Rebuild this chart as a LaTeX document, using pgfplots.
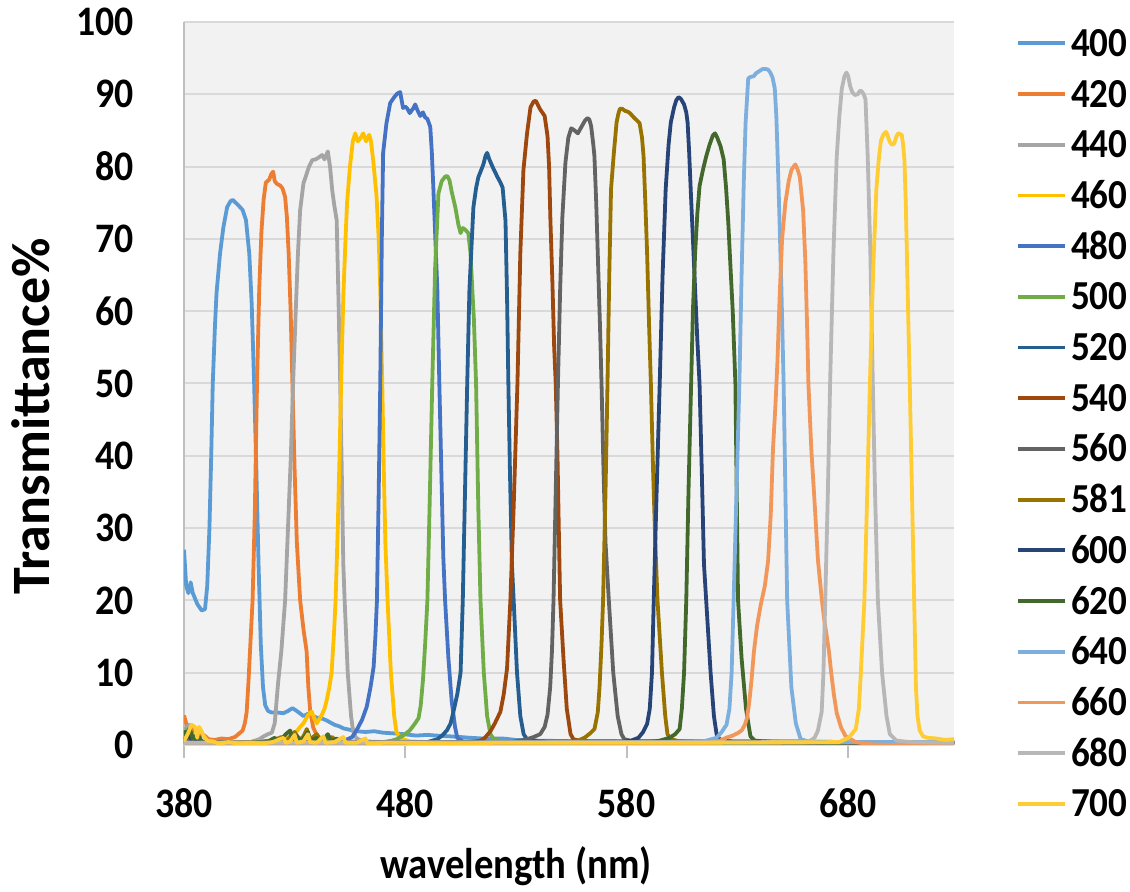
\documentclass[border=0pt]{standalone}
\usepackage{fontspec}
\setmainfont{Carlito}[FakeStretch=0.9]
\newfontfamily\ylabfont{Carlito}
\usepackage{pgfplots}
\pgfplotsset{compat=1.18}
\definecolor{c400}{HTML}{5B9BD5}
\definecolor{c420}{HTML}{ED7D31}
\definecolor{c440}{HTML}{A5A5A5}
\definecolor{c460}{HTML}{FFC000}
\definecolor{c480}{HTML}{4472C4}
\definecolor{c500}{HTML}{70AD47}
\definecolor{c520}{HTML}{255E91}
\definecolor{c540}{HTML}{9E480E}
\definecolor{c560}{HTML}{636363}
\definecolor{c581}{HTML}{997300}
\definecolor{c600}{HTML}{264478}
\definecolor{c620}{HTML}{43682B}
\definecolor{c640}{HTML}{7CAFDD}
\definecolor{c660}{HTML}{F1975A}
\definecolor{c680}{HTML}{B7B7B7}
\definecolor{c700}{HTML}{FFCD33}
\definecolor{bgc}{HTML}{F2F2F2}
\definecolor{gridc}{HTML}{D9D9D9}
\definecolor{tickc}{HTML}{BFBFBF}
\begin{document}
\begin{tikzpicture}
\begin{axis}[
  at={(0,0)}, anchor=south west,
  scale only axis, width=385pt, height=361.5pt,
  xmin=380, xmax=728, ymin=0, ymax=100,
  xtick={380,480,580,680}, ytick={0,10,...,100},
  axis background/.style={fill=bgc},
  ymajorgrids, major grid style={draw=gridc, line width=1pt},
  axis lines*=left, axis line style={draw=tickc, line width=1pt, -},
  x axis line style={draw=gridc},
  tick align=outside, major tick length=6.5pt,
  x tick style={draw=tickc, line width=1pt},
  y tick style={draw=none},
  /pgf/number format/assume math mode=true,
  tick label style={font=\fontsize{21}{21}\selectfont\bfseries},
  yticklabel style={inner sep=0pt, anchor=east, xshift=-18.5pt},
  xticklabel style={inner sep=0pt, anchor=north, yshift=-15pt},
  xlabel={wavelength (nm)},
  xlabel style={at={(axis description cs:0.431,-0.184)}, anchor=base, inner sep=0pt, font=\fontsize{21.5}{21.5}\selectfont\bfseries},
  ylabel={Transmittance\%},
  ylabel style={at={(axis description cs:-0.1753,0.455)}, anchor=base, inner sep=0pt, font=\fontsize{27}{27}\selectfont\ylabfont\bfseries},
  legend style={at={(axis description cs:1.0805,0.989)}, anchor=north west, draw=none, fill=none, inner sep=0pt, row sep=12.35pt, column sep=2pt,
    font=\fontsize{20.6}{20.6}\selectfont\bfseries, nodes={inner sep=0pt, text height=13pt, text depth=0pt}},
  legend cell align=left,
  legend image code/.code={\draw[#1] (0pt,0pt) -- (23.5pt,0pt);},
  every axis plot/.append style={line width=1.9pt, line join=round, no marks},
]
% 400
\addplot[c400] coordinates {(380,27)(381,22)(382,21)(383,22.5)(384,21)(386,19.5)(388,18.6)(389.5,18.8)(390.5,22)(391.5,30)(392.3,40)(393,50)(394,58)(394.7,62.5)(396.3,68)(397.8,71.6)(399.5,74.4)(401,75.2)(402,75.4)(403,75.1)(404.4,74.7)(406.5,74)(408,72.6)(409.5,68)(410.6,61)(411.7,50)(412.7,38)(413.7,25)(414.7,14)(415.7,8)(416.7,5.5)(418,4.7)(419.5,4.5)(422,4.5)(425,4.4)(427,4.7)(429,5.1)(431,4.7)(434,4.0)(436,4.3)(438,4.0)(440,3.8)(443,3.6)(445,3.3)(448,2.8)(450,2.6)(452,2.3)(455,2.1)(458,1.9)(462,1.8)(466,1.9)(470,1.7)(475,1.6)(479,1.5)(485,1.3)(490,1.4)(494,1.3)(500,1.2)(505,1.1)(509,1.0)(515,0.9)(524,0.9)(530,0.7)(540,0.6)(560,0.5)(600,0.5)(640,0.4)(680,0.4)(728,0.4)};
% 420
\addplot[c420] coordinates {(380,4.1)(381,3)(382,2.2)(383,2.8)(384,1.8)(385.5,2.2)(387,1.2)(389,1.4)(391,0.8)(394,0.7)(397,0.9)(400,0.8)(403,1.1)(405,1.6)(406.5,2.0)(407.5,3)(408.3,4.5)(409.1,8.5)(410,14)(411,20)(412,32)(413,50)(414,63)(415,71)(416,75.5)(417,77.8)(418.5,78.2)(419.5,79)(420.3,79.3)(421,78)(422,77.6)(423.4,77.4)(424.5,77)(425.7,75.8)(426.5,73)(427.3,68)(428.2,60)(429,50)(430,38)(431,28)(432.5,20)(434,16)(435.4,13)(436.2,8)(437,4.8)(438.4,2.4)(440,1.4)(442,0.8)(446,0.6)(450,0.5)(470,0.4)(728,0.3)};
% 440
\addplot[c440] coordinates {(380,2.5)(381,1.5)(382,2.8)(383,1.2)(385,0.5)(390,0.3)(400,0.3)(410,0.4)(414,0.8)(416,1.2)(418,1.5)(419.7,1.7)(421,3)(422.5,8.5)(424,13)(425.7,20)(427,30)(428.3,40)(429.3,50)(430.5,60)(431.5,68)(432.5,74)(434,77.7)(435,78.6)(436.5,80)(438,80.9)(439.5,81)(440.6,81.2)(442.4,81.6)(443.5,81)(445,82.1)(446,80)(447,76.7)(448,74.5)(449,72.6)(449.8,62)(450.6,50)(451.3,38)(452,25)(452.6,20)(454,10)(455.5,4)(456.5,1.8)(458,0.9)(461,0.5)(470,0.4)(728,0.3)};
% 460
\addplot[c460] coordinates {(380,1.5)(382,0.6)(384,1.0)(386,0.5)(390,0.4)(400,0.3)(410,0.4)(420,0.6)(425,0.8)(428,1.2)(430.2,1.6)(432.5,2.5)(434,3)(436,4.1)(437.7,4.6)(439,3.6)(440,3)(441,3.5)(442.2,4.1)(443.5,5)(444.5,6.2)(445.7,8)(446.7,10)(447.8,15.5)(448.5,20)(449.5,30)(450.3,40)(451,50)(452,62)(453,70)(453.7,75)(455,80)(456.3,83.5)(457.4,84.6)(458.5,83.5)(459.5,83.8)(461,84.6)(462.3,83.5)(463.7,84.4)(464.5,83.5)(465.5,80.9)(467,76)(468,70)(468.7,63)(469.6,50)(470.3,38)(471,28)(472,20)(473.5,10)(475,4)(476,1.8)(478,0.9)(482,0.5)(490,0.4)(728,0.3)};
% 480
\addplot[c480] coordinates {(380,0.5)(400,0.3)(430,0.3)(450,0.5)(454,0.8)(456,1.1)(458.1,2.1)(460.5,3.5)(462.6,5.3)(464.3,8)(465.7,10.8)(466.5,15)(467.2,20)(468,35)(468.7,50)(469.4,70)(470,81.9)(471.5,86)(473.2,88.8)(475,89.6)(476.4,90.1)(477.7,90.3)(479,88.1)(480,88.3)(481,88)(482,87.4)(483.5,88)(484.5,88.6)(485.5,87.8)(486.8,87)(488,87.5)(489,86.8)(490,86.6)(491.3,85.5)(492,82)(492.7,77)(493.6,70)(494.5,63)(495.4,50)(496.3,38)(497.2,26)(498,20)(499.5,12)(501,6)(502.5,2.5)(503.5,1)(506,0.5)(515,0.4)(728,0.3)};
% 500
\addplot[c500] coordinates {(380,1.5)(382,2.2)(384,1)(386,0.4)(400,0.3)(440,0.3)(470,0.4)(474,0.6)(476,0.8)(479,1.3)(482,2)(484,2.8)(486,3.7)(487,5.5)(488,9)(489,14)(490,20)(491,33)(492.2,50)(493.5,66)(495,76.3)(496.5,78)(498,78.6)(499,78.7)(500,78.1)(501,76.5)(502.6,74.4)(504,72)(505,70.8)(506,71.5)(507,71.3)(508.5,70.8)(509.5,68)(510.3,63)(511,59)(512,50)(513,33)(514,20)(515.5,10)(517,4)(518.5,1.5)(520,0.8)(524,0.5)(530,0.4)(728,0.3)};
% 520
\addplot[c520] coordinates {(380,0.5)(400,0.3)(490,0.4)(494.5,0.8)(497,1.4)(499,2.1)(500.5,3)(501.7,4.5)(503.5,7)(505,10)(506,20)(507,35)(508,50)(509,63)(510.8,74.4)(512,77)(513,78.5)(515.3,80.3)(516.3,81.5)(517,81.9)(518,81)(519.4,80)(521.6,78.6)(523,77.8)(524,77.1)(525.3,72.5)(526,62)(526.6,50)(527.3,38)(528.2,25)(529,20)(530.5,10)(532,4)(533.5,1.5)(535,0.8)(540,0.5)(728,0.3)};
% 540
\addplot[c540] coordinates {(380,0.8)(383,1.5)(386,0.4)(400,0.3)(510,0.4)(514,0.6)(516,1)(518.5,1.9)(520.5,3)(523,4.6)(524.5,7)(526,10.6)(527.5,20)(529,33)(530.7,50)(532,68)(533.4,79.5)(535,84.5)(536.6,88.2)(538,89)(539,89.1)(540,88.5)(541,87.9)(543,87)(544.3,84.2)(545,80)(545.6,72.6)(546.5,64)(547.3,55)(548,50)(548.8,40)(549.5,28)(550,20)(551.5,12)(553,5)(554.7,1.5)(556,0.8)(560,0.5)(728,0.3)};
% 560
\addplot[c560] coordinates {(380,1.2)(382,0.5)(400,0.3)(527,0.4)(532,0.6)(535,0.8)(538,1.1)(541,1.5)(543,2.5)(544.3,4.2)(545.5,8)(546.3,13)(547,20)(548,35)(549,50)(550,63)(551,73)(552.4,80.6)(553.7,84)(555,85.3)(556.5,85)(558,84.6)(560,85.7)(561.3,86.4)(562.4,86.7)(563.2,86.5)(564,85.6)(565,83)(565.5,81.4)(566.3,75)(567,68)(568,58)(568.7,50)(569.6,38)(570.5,28)(572,20)(574,10)(576,4)(577.7,1.5)(579,0.8)(583,0.5)(728,0.3)};
% 581
\addplot[c581] coordinates {(380,1)(383,1.8)(385,0.5)(390,0.3)(410,0.3)(420,0.6)(424,1.1)(426,0.5)(430,1.8)(432,0.6)(434,1.2)(435.5,2.2)(437,0.8)(440,1.5)(442,0.5)(447,1.1)(449,0.4)(455,0.3)(490,0.3)(520,0.4)(540,0.3)(555,0.4)(558,0.6)(561,1)(563.5,1.6)(565.5,2.2)(567,4.5)(567.8,8)(568.7,14)(569.4,20)(570.5,35)(571.4,50)(572.2,65)(573,76.9)(574.3,82)(575.5,86.1)(576.3,87.3)(577,88)(578,88)(579.4,87.7)(580.5,87.6)(581.5,87.4)(582.7,87)(583.6,86.7)(585,86.3)(585.9,86)(587,84)(587.7,81.4)(588.5,75)(589.3,68)(590.2,58)(591,50)(592,38)(593,28)(594,20)(596,10)(597.5,4)(598.5,1.5)(600,0.8)(604,0.5)(728,0.3)};
% 600
\addplot[c600] coordinates {(380,0.6)(382,1.4)(384,0.5)(390,0.3)(578,0.4)(582,0.6)(585.4,1)(587.5,1.8)(589.3,2.9)(590.5,5)(591.5,10)(592.3,20)(593.6,35)(595,50)(596.3,65)(597.7,76.9)(599,83)(600,86.1)(601.5,88.2)(602.5,89.2)(603.5,89.6)(604.5,89.4)(606,88.6)(607,87.5)(607.6,86.1)(608.3,82)(609,76.9)(610,70)(611,63)(612,56)(613,50)(614,38)(615,25)(616,20)(618,10)(619.5,4)(620.7,1.5)(622,0.8)(626,0.5)(728,0.3)};
% 620
\addplot[c620] coordinates {(380,2)(381,1.2)(382.5,2.3)(384,0.8)(386,1.5)(388,0.5)(392,0.3)(400,0.2)(410,0.3)(418,0.5)(421,1.0)(423,0.4)(426,1.5)(428,2.0)(429,0.6)(431,1.3)(433,0.5)(436,1.8)(437,0.6)(440,1.0)(442,0.4)(445,1.5)(446.5,0.5)(449,0.9)(451,0.3)(455,0.3)(470,0.2)(500,0.3)(540,0.3)(580,0.3)(590,0.4)(595,0.6)(599.5,1)(602,1.5)(604,2.2)(605,5)(606,10)(607,20)(608,35)(609.2,50)(610,60)(611,68)(612,73.5)(613,77.3)(614.5,79.5)(616,81.4)(617.5,83)(619,84.3)(620,84.6)(621,84)(622.5,82.8)(623.9,81)(625,77)(626,72.2)(627,66)(628,60)(629.2,50)(629.8,35)(630.4,20)(632,12)(634,5)(636,1.2)(638,0.6)(642,0.5)(728,0.3)};
% 640
\addplot[c640] coordinates {(380,0.3)(612,0.4)(616,0.6)(620.7,1)(623,1.8)(625.2,2.8)(626.5,5)(627.5,10)(628.4,20)(629.7,35)(631,50)(632,65)(633,78)(633.8,86)(635,92.2)(636,92.4)(637.5,92.5)(638.5,92.9)(640,93.2)(641.5,93.5)(643,93.5)(644,93.4)(645,93)(646,92.3)(647,90.8)(647.7,87)(648.3,81.4)(649.2,72)(650,63)(651,50)(651.8,35)(652.6,20)(654.5,8)(656.5,3)(658.7,0.8)(662,0.5)(670,0.4)(728,0.4)};
% 660
\addplot[c660] coordinates {(380,0.3)(615,0.3)(620,0.4)(622.3,0.6)(625,1)(628,1.3)(630,1.6)(632,2)(633.5,2.8)(634.5,3.8)(635.5,6)(636.5,9)(637.6,13)(639,16.5)(640.6,19.3)(642.5,22)(644,25.5)(645.2,32)(646.2,41)(647.3,47)(648.2,53)(649.2,62)(650.3,70)(651.8,75)(653.3,78)(654.5,79.5)(655.5,80)(656.3,80.3)(657.3,79.6)(658.3,78.6)(659.8,74)(660.8,67)(661.6,58)(662.2,50)(663.5,41)(665.3,32)(666.5,25.6)(668.3,20)(669.5,17)(670.5,15)(671.5,12.9)(672.5,10)(673.7,7)(675,4.4)(677,2.4)(679,1.2)(683.6,0.4)(690,0.1)(700,0)(728,0)};
% 680
\addplot[c680] coordinates {(380,0.3)(660,0.4)(663,0.6)(665,1)(666.5,2)(668.2,4.6)(669,10)(669.8,20)(671,35)(672,50)(673.5,68)(675,81.4)(676.2,87)(677.3,90.8)(678.5,92.5)(679.4,93)(680.2,92.5)(681,91.2)(682,90.3)(683.2,89.9)(684.5,90)(685.5,90.5)(686.3,90.4)(687.2,90)(688,89.3)(689,81.4)(690.2,68)(691.3,50)(692.3,35)(693.6,20)(695.5,10)(697.5,4)(699,1.5)(702,0.6)(708,0.4)(728,0.3)};
% 700
\addplot[c700] coordinates {(380,0.5)(381.8,1.6)(383.4,2.8)(385,2.5)(386,1)(386.8,2.5)(387.8,2)(389,1.2)(390.5,0.6)(393,0.5)(396,0.2)(400,0.4)(405,0.2)(410,0.3)(415,0.2)(420,0.4)(425,1.0)(426,0.3)(428,0.5)(430,1.4)(431,0.3)(434,0.5)(436,1.5)(437,0.4)(440,0.3)(443,1.2)(444,0.3)(448,0.4)(452,1.1)(453,0.3)(458,0.3)(462,0.9)(463,0.2)(470,0.3)(480,0.3)(500,0.2)(520,0.3)(600,0.3)(676,0.4)(680.4,1)(683.6,2.2)(685,5)(685.9,10)(687.5,20)(688.8,35)(690,50)(691.5,66)(692.9,76.8)(694,81)(695,83.6)(696.2,84.5)(697.3,84.8)(698,84.3)(699,83.4)(700,83)(701,83.2)(702,84.2)(702.8,84.6)(704.4,84.4)(705,83)(705.6,80.9)(706.2,75)(706.7,68)(707.4,58)(708,50)(709,35)(710,20)(710.8,8)(711.5,4)(712.5,2)(714,1.2)(716,1)(720,0.9)(724,0.7)(728,0.8)};
\legend{400,420,440,460,480,500,520,540,560,581,600,620,640,660,680,700}
\end{axis}
\pgfresetboundingbox
\useasboundingbox (-92pt,-73.5pt) rectangle (473pt,372.5pt);
\end{tikzpicture}
\end{document}
